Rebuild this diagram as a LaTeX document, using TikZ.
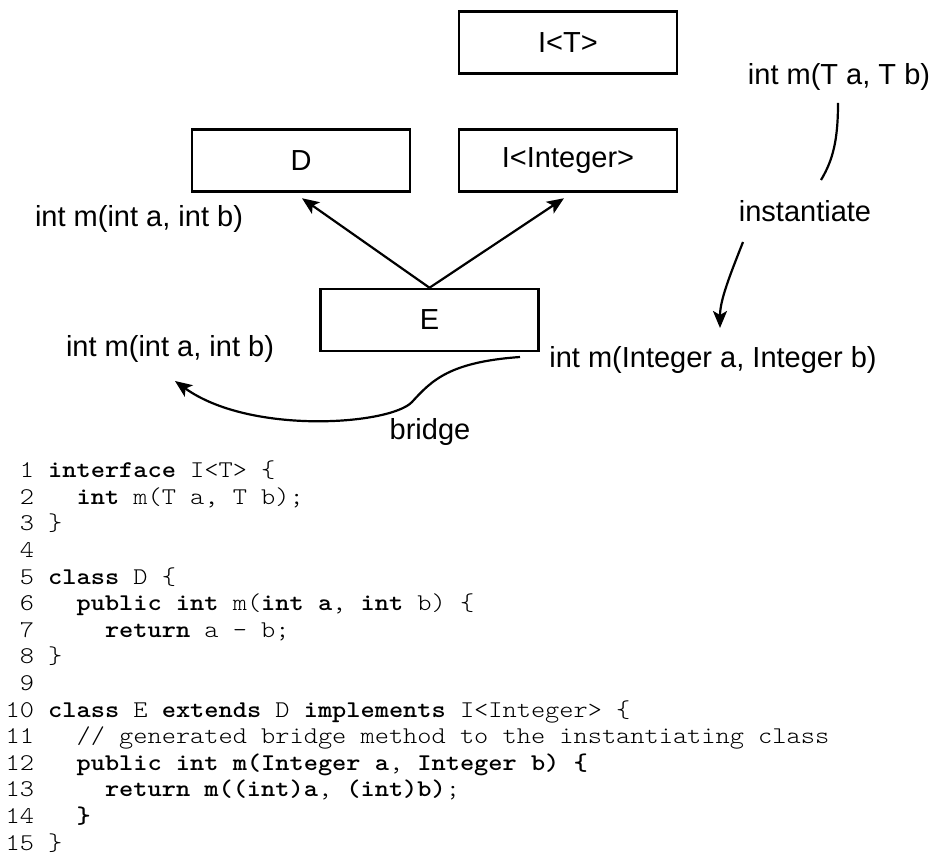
\documentclass[tikz,border=0pt]{standalone}
\usepackage{fontspec}
\setmainfont{Liberation Sans}
\newfontfamily\codefont[BoldFont=lmmonolt10-bold.otf, FakeStretch=1.127]{lmmonolt10-regular.otf}
\usetikzlibrary{arrows.meta}
\newcommand\kw[1]{\textbf{#1}}
\begin{document}
\begin{tikzpicture}[x=1pt,y=-1pt,
  box/.style={draw, line width=2.5pt, minimum width=218pt, minimum height=62pt, inner sep=0pt, font=\fontsize{29}{34}\selectfont},
  lbl/.style={font=\fontsize{29}{34}\selectfont, inner sep=0pt, anchor=base},
  conn/.style={line width=2.2pt, -{Stealth[length=17pt,width=14pt,inset=4pt]}},
  plainline/.style={line width=2.2pt},
  code/.style={font=\fontsize{24}{26}\selectfont\codefont, inner sep=0pt, anchor=base west}]
\useasboundingbox (0,0) rectangle (937,866);

% boxes
\node[box] (IT) at (568,42.5) {I<T>};
\node[box] (D)  at (301,160.5) {D};
\node[box] (II) at (568,160.5) {I<Integer>};
\node[box] (E)  at (429.5,320) {E};

% labels
\node[lbl] (sigT) at (839,85) {int m(T a, T b)};
\node[lbl] (inst) at (805,222) {instantiate};
\node[lbl] (sigD) at (139,227) {int m(int a, int b)};
\node[lbl] (sigE) at (713,368) {int m(Integer a, Integer b)};
\node[lbl] (sigB) at (170,357) {int m(int a, int b)};
\node[lbl] (brl)  at (430,439) {bridge};

% inheritance arrows
\draw[conn] (E.north) -- ([xshift=1pt,yshift=-5.5pt]D.south);
\draw[conn] (E.north) -- ([xshift=-4pt,yshift=-5.5pt]II.south);

% instantiate
\coordinate (iA) at (838,103);
\coordinate (iB) at (821,180);
\coordinate (iC) at (743,242);
\coordinate (iD) at (720,328);
\draw[plainline] (iA) .. controls (838,140) and (833,160) .. (iB);
\draw[conn] (iC) .. controls (730,275) and (720,300) .. (iD);

% bridge
\coordinate (bS) at (520,357);
\coordinate (bM) at (412,402);
\coordinate (bT) at (175,381);
\draw[conn] (bS) .. controls (450,362) and (432,380) .. (bM)
  .. controls (390,425) and (250,435) .. (bT);

% code
\node[code] (c1)  at (5.4,{477.6+26.6*0})  {~1 \kw{interface} I<T> \{};
\node[code] (c2)  at (5.4,{477.6+26.6*1})  {~2 ~~\kw{int} m(T a, T b);};
\node[code] (c3)  at (5.4,{477.6+26.6*2})  {~3 \}};
\node[code] (c4)  at (5.4,{477.6+26.6*3})  {~4};
\node[code] (c5)  at (5.4,{477.6+26.6*4})  {~5 \kw{class} D \{};
\node[code] (c6)  at (5.4,{477.6+26.6*5})  {~6 ~~\kw{public int} m(\kw{int a}, \kw{int} b) \{};
\node[code] (c7)  at (5.4,{477.6+26.6*6})  {~7 ~~~~\kw{return} a - b;};
\node[code] (c8)  at (5.4,{477.6+26.6*7})  {~8 \}};
\node[code] (c9)  at (5.4,{477.6+26.6*8})  {~9};
\node[code] (c10) at (5.4,{477.6+26.6*9})  {10 \kw{class} E \kw{extends} D \kw{implements} I<Integer> \{};
\node[code] (c11) at (5.4,{477.6+26.6*10}) {11 ~~// generated bridge method to the instantiating class};
\node[code] (c12) at (5.4,{477.6+26.6*11}) {12 ~~\kw{public int m(Integer a}, \kw{Integer b) \{}};
\node[code] (c13) at (5.4,{477.6+26.6*12}) {13 ~~~~\kw{return m((int)a}, \kw{(int)b)};};
\node[code] (c14) at (5.4,{477.6+26.6*13}) {14 ~~\kw{\}}};
\node[code] (c15) at (5.4,{477.6+26.6*14}) {15 \}};
\end{tikzpicture}
\end{document}
